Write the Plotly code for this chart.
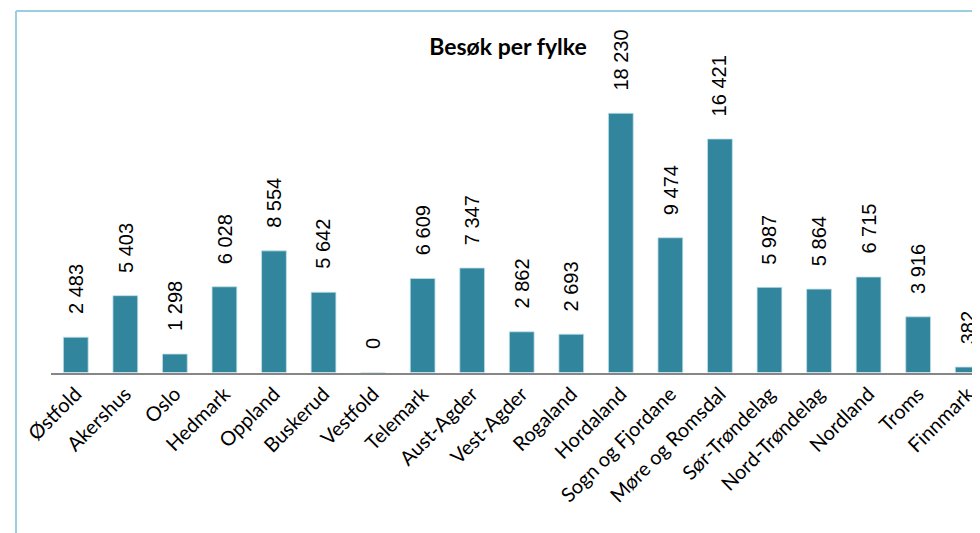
import plotly.graph_objects as go

categories = ["Østfold", "Akershus", "Oslo", "Hedmark", "Oppland", "Buskerud", "Vestfold",
              "Telemark", "Aust-Agder", "Vest-Agder", "Rogaland", "Hordaland",
              "Sogn og Fjordane", "Møre og Romsdal", "Sør-Trøndelag", "Nord-Trøndelag",
              "Nordland", "Troms", "Finnmark"]
visits = [2483, 5403, 1298, 6028, 8554, 5642, 0, 6609, 7347, 2862, 2693, 18230,
          9474, 16421, 5987, 5864, 6715, 3916, 382]
labels = [f"{v:,}".replace(",", " ") for v in visits]

OFF = 8  # default page body margin
W, H = 980 - OFF, 533 - OFF
bar_color = "#31859C"
border_color = "#9ACFDD"

x0_px = 51.0 - OFF
pitch = 49.55
base_px = 372.5 - OFF
scale = 0.01422
ymax = 23500

fig = go.Figure()
fig.add_trace(go.Bar(
    x=list(range(len(categories))), y=visits,
    marker=dict(color=bar_color, line=dict(color="#BFE0EA", width=0.8)),
    width=0.5, hoverinfo="skip"
))

for i, (v, t) in enumerate(zip(visits, labels)):
    fig.add_annotation(x=i, y=v, text=t, textangle=-90, showarrow=False,
                       xanchor="center", yanchor="bottom", yshift=21,
                       font=dict(family="Liberation Sans", size=20, color="#000000"))

xr_end = -0.5 + (W - x0_px) / pitch
ybot = (H - base_px) / H
ytop = ybot + ymax * scale / H

fig.update_layout(
    width=W, height=H,
    margin=dict(l=0, r=0, t=0, b=0, autoexpand=False),
    paper_bgcolor="white", plot_bgcolor="white",
    showlegend=False,
    title=dict(text="<b>Besøk per fylke</b>", x=(508 - OFF) / W, xanchor="center",
               y=1 - (47 - OFF) / H, yanchor="middle", automargin=False,
               font=dict(family="Lato", size=23, color="#000000")),
    xaxis=dict(domain=[x0_px / W, 1], range=[-0.5, xr_end], automargin=False,
               tickmode="array", tickvals=list(range(len(categories))), ticktext=categories,
               tickangle=-45, showline=True, linecolor="#868686", linewidth=2,
               showgrid=False, zeroline=False, ticks="",
               tickfont=dict(family="Lato", size=20, color="#000000")),
    yaxis=dict(domain=[ybot, ytop], range=[0, ymax], visible=False, automargin=False,
               showgrid=False, zeroline=False),
    shapes=[
        dict(type="line", xref="paper", yref="paper", x0=(16 - OFF) / W, x1=(16 - OFF) / W,
             y0=0, y1=1 - (11 - OFF) / H, line=dict(color=border_color, width=2)),
        dict(type="line", xref="paper", yref="paper", x0=(16 - OFF) / W, x1=1,
             y0=1 - (11 - OFF) / H, y1=1 - (11 - OFF) / H, line=dict(color=border_color, width=2)),
    ],
)

fig.write_html("out.html")
